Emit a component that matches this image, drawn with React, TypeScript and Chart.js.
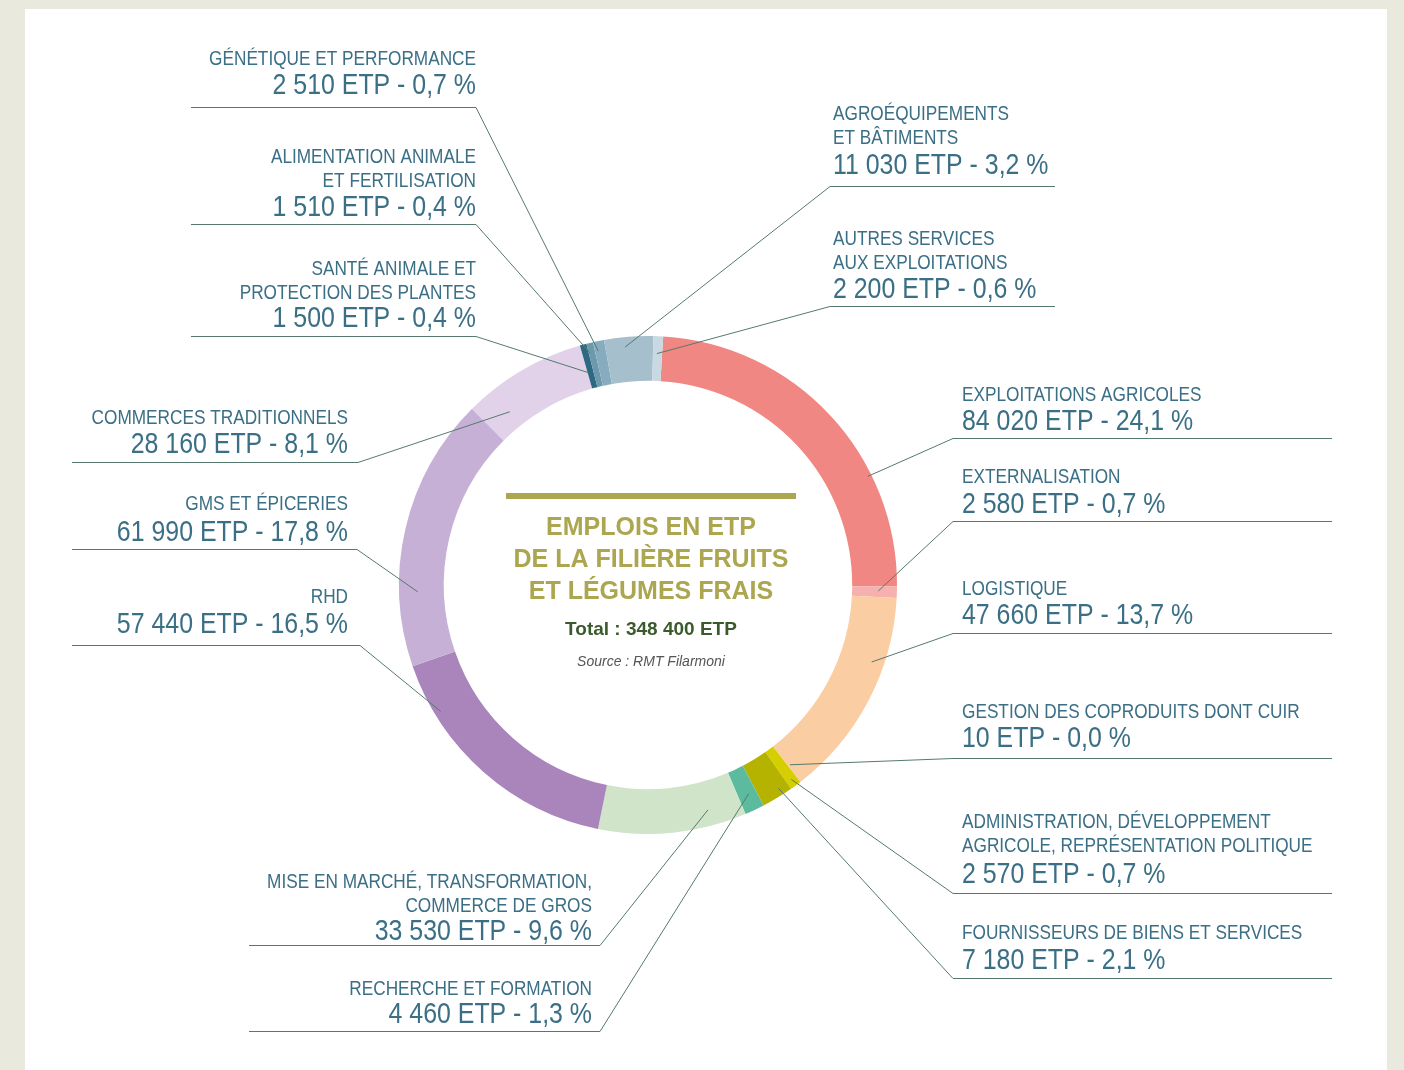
import React, { useEffect, useRef } from "react";
import { Chart, registerables } from "chart.js";

Chart.register(...registerables);

// ---------- DATA ----------
const categories: string[] = [
  "EXPLOITATIONS AGRICOLES",
  "EXTERNALISATION",
  "LOGISTIQUE",
  "GESTION DES COPRODUITS DONT CUIR",
  "ADMINISTRATION, DÉVELOPPEMENT\nAGRICOLE, REPRÉSENTATION POLITIQUE",
  "FOURNISSEURS DE BIENS ET SERVICES",
  "RECHERCHE ET FORMATION",
  "MISE EN MARCHÉ, TRANSFORMATION,\nCOMMERCE DE GROS",
  "RHD",
  "GMS ET ÉPICERIES",
  "COMMERCES TRADITIONNELS",
  "SANTÉ ANIMALE ET\nPROTECTION DES PLANTES",
  "ALIMENTATION ANIMALE\nET FERTILISATION",
  "GÉNÉTIQUE ET PERFORMANCE",
  "AGROÉQUIPEMENTS\nET BÂTIMENTS",
  "AUTRES SERVICES\nAUX EXPLOITATIONS",
];

const etpValues: number[] = [
  84020, 2580, 47660, 10, 2570, 7180, 4460, 33530, 57440, 61990, 28160, 1500,
  1510, 2510, 11030, 2200,
];

const percentLabels: string[] = [
  "24,1", "0,7", "13,7", "0,0", "0,7", "2,1", "1,3", "9,6", "16,5", "17,8",
  "8,1", "0,4", "0,4", "0,7", "3,2", "0,6",
];

const sliceColors: string[] = [
  "#F18782", "#F6B0AE", "#FBCDA2", "#DDD400", "#D5CE00", "#B6B200",
  "#5CBB9E", "#D0E4C9", "#A985BC", "#C6B0D6", "#E1D2EA", "#2D6A82",
  "#6D99AD", "#88ACBF", "#A5BFCD", "#C8D9E3",
];

const centerTitle: string[] = [
  "EMPLOIS EN ETP",
  "DE LA FILIÈRE FRUITS",
  "ET LÉGUMES FRAIS",
];
const totalLabel = "Total : 348 400 ETP";
const sourceLabel = "Source : RMT Filarmoni";

// ---------- LAYOUT (label positions, leader anchors) ----------
type LabelLayout = {
  side: "L" | "R";
  textX: number;
  titleY: number;
  valueY: number;
  ruleY: number;
  ruleFrom: number;
  ruleTo: number;
  anchorDeg: number;
  anchorR: number;
};

const labelLayout: LabelLayout[] = [
  { side: "R", textX: 962, titleY: 401, valueY: 430, ruleY: 438, ruleFrom: 953, ruleTo: 1332, anchorDeg: 63.7, anchorR: 0.985 },
  { side: "R", textX: 962, titleY: 483, valueY: 513, ruleY: 521, ruleFrom: 953, ruleTo: 1332, anchorDeg: 91.5, anchorR: 0.925 },
  { side: "R", textX: 962, titleY: 595, valueY: 624, ruleY: 633, ruleFrom: 953, ruleTo: 1332, anchorDeg: 109, anchorR: 0.95 },
  { side: "R", textX: 962, titleY: 718, valueY: 747, ruleY: 758, ruleFrom: 953, ruleTo: 1332, anchorDeg: 141.7, anchorR: 0.92 },
  { side: "R", textX: 962, titleY: 828, valueY: 883, ruleY: 893, ruleFrom: 953, ruleTo: 1332, anchorDeg: 143.6, anchorR: 0.97 },
  { side: "R", textX: 962, titleY: 939, valueY: 969, ruleY: 978, ruleFrom: 953, ruleTo: 1332, anchorDeg: 147.3, anchorR: 0.97 },
  { side: "L", textX: 592, titleY: 995, valueY: 1023, ruleY: 1031, ruleFrom: 600, ruleTo: 249, anchorDeg: 154.2, anchorR: 0.93 },
  { side: "L", textX: 592, titleY: 888, valueY: 940, ruleY: 945, ruleFrom: 600, ruleTo: 249, anchorDeg: 165.1, anchorR: 0.935 },
  { side: "L", textX: 348, titleY: 603, valueY: 633, ruleY: 645, ruleFrom: 360, ruleTo: 72, anchorDeg: 238.6, anchorR: 0.975 },
  { side: "L", textX: 348, titleY: 510, valueY: 541, ruleY: 549, ruleFrom: 357, ruleTo: 72, anchorDeg: 268.3, anchorR: 0.925 },
  { side: "L", textX: 348, titleY: 424, valueY: 453, ruleY: 462, ruleFrom: 358, ruleTo: 72, anchorDeg: 321.4, anchorR: 0.89 },
  { side: "L", textX: 476, titleY: 275, valueY: 327, ruleY: 336, ruleFrom: 476, ruleTo: 191, anchorDeg: 344.4, anchorR: 0.885 },
  { side: "L", textX: 476, titleY: 163, valueY: 216, ruleY: 224, ruleFrom: 476, ruleTo: 191, anchorDeg: 346.0, anchorR: 0.96 },
  { side: "L", textX: 476, titleY: 65, valueY: 94, ruleY: 107, ruleFrom: 476, ruleTo: 191, anchorDeg: 348.0, anchorR: 0.96 },
  { side: "R", textX: 833, titleY: 120, valueY: 174, ruleY: 186, ruleFrom: 830, ruleTo: 1055, anchorDeg: 354.5, anchorR: 0.96 },
  { side: "R", textX: 833, titleY: 245, valueY: 298, ruleY: 306, ruleFrom: 830, ruleTo: 1055, anchorDeg: 2.2, anchorR: 0.93 },
];

const TEXT_COLOR = "#3B6F86";
const RULE_COLOR = "#557A6D";
const OLIVE = "#ABA64F";

function formatEtp(v: number): string {
  return String(v).replace(/\B(?=(\d{3})+(?!\d))/g, " ");
}

function drawCondensed(
  ctx: CanvasRenderingContext2D,
  text: string,
  x: number,
  y: number,
  size: number,
  align: CanvasTextAlign,
  color: string,
  scale = 0.82
) {
  ctx.save();
  ctx.font = `${size}px "Liberation Sans", Arial, sans-serif`;
  ctx.fillStyle = color;
  ctx.textAlign = align;
  ctx.textBaseline = "alphabetic";
  ctx.translate(x, y);
  ctx.scale(scale, 1);
  ctx.fillText(text, 0, 0);
  ctx.restore();
}

export default function App() {
  const ref = useRef<HTMLCanvasElement>(null);

  useEffect(() => {
    const canvas = ref.current;
    if (!canvas) return;

    const labelPlugin = {
      id: "sideLabels",
      afterDraw(chart: any) {
        const ctx: CanvasRenderingContext2D = chart.ctx;
        const arc: any = chart.getDatasetMeta(0).data[0];
        const cx = arc.x;
        const cy = arc.y;
        const R = arc.outerRadius;

        labelLayout.forEach((L, i) => {
          const a = (L.anchorDeg * Math.PI) / 180;
          const ax = cx + R * L.anchorR * Math.sin(a);
          const ay = cy - R * L.anchorR * Math.cos(a);
          ctx.save();
          ctx.strokeStyle = RULE_COLOR;
          ctx.lineWidth = 1;
          ctx.beginPath();
          ctx.moveTo(L.ruleTo, L.ruleY + 0.5);
          ctx.lineTo(L.ruleFrom, L.ruleY + 0.5);
          ctx.lineTo(ax, ay);
          ctx.stroke();
          ctx.restore();

          const align: CanvasTextAlign = L.side === "L" ? "right" : "left";
          const lines = categories[i].split("\n");
          lines.forEach((ln, k) => {
            drawCondensed(ctx, ln, L.textX, L.titleY + k * 24, 21, align, TEXT_COLOR);
          });
          const valueText = `${formatEtp(etpValues[i])} ETP - ${percentLabels[i]} %`;
          drawCondensed(ctx, valueText, L.textX, L.valueY, 30, align, TEXT_COLOR, 0.83);
        });

        // center block
        ctx.save();
        ctx.fillStyle = OLIVE;
        ctx.fillRect(cx - 142, cy - 92, 290, 6);
        ctx.restore();
        const tx = cx + 3;
        centerTitle.forEach((t, k) => {
          ctx.save();
          ctx.font = `bold 25px "Liberation Sans", Arial, sans-serif`;
          ctx.fillStyle = OLIVE;
          ctx.textAlign = "center";
          ctx.fillText(t, tx, cy - 50 + k * 32);
          ctx.restore();
        });
        ctx.save();
        ctx.font = `bold 19px "Liberation Sans", Arial, sans-serif`;
        ctx.fillStyle = "#3B5A2C";
        ctx.textAlign = "center";
        ctx.fillText(totalLabel, tx, cy + 50);
        ctx.font = `italic 14px "Liberation Sans", Arial, sans-serif`;
        ctx.fillStyle = "#555555";
        ctx.fillText(sourceLabel, tx, cy + 81);
        ctx.restore();
      },
    };

    const chart = new Chart(canvas, {
      type: "doughnut",
      data: {
        labels: categories.map((c) => c.replace(/\n/g, " ")),
        datasets: [
          {
            data: etpValues,
            backgroundColor: sliceColors,
            borderWidth: 0,
            hoverOffset: 0,
          },
        ],
      },
      options: {
        responsive: false,
        animation: false,
        devicePixelRatio: 1,
        events: [],
        rotation: 3.5,
        cutout: "82%",
        layout: { padding: { left: 399, right: 507, top: 336, bottom: 236 } },
        plugins: {
          legend: { display: false },
          tooltip: { enabled: false },
        },
      },
      plugins: [labelPlugin],
    } as any);

    return () => chart.destroy();
  }, []);

  return (
    <div
      style={{
        position: "fixed",
        left: 0,
        top: 0,
        width: 1404,
        height: 1070,
        background: "#EAE9DE",
        overflow: "hidden",
      }}
    >
      <div
        style={{
          position: "absolute",
          left: 25,
          top: 9,
          width: 1362,
          height: 1061,
          background: "#FFFFFF",
        }}
      />
      <canvas
        ref={ref}
        width={1404}
        height={1070}
        style={{ position: "absolute", left: 0, top: 0, width: 1404, height: 1070 }}
      />
    </div>
  );
}
